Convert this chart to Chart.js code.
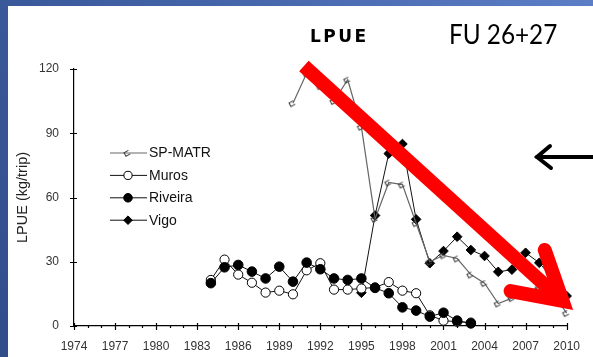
<!DOCTYPE html>
<html>
<head>
<meta charset="utf-8">
<script src="https://cdn.jsdelivr.net/npm/chart.js@4.4.0/dist/chart.umd.min.js"></script>
<style>
  html, body { margin: 0; padding: 0; }
  body { width: 593px; height: 357px; overflow: hidden; position: relative;
         background: linear-gradient(60deg, #304d8a 0%, #4363a8 50%, #5c7ec6 100%); }
  #panel { position: absolute; left: 8px; top: 6px; right: 0; bottom: 0; background: #fff; }
  #wrap { position: absolute; left: 0; top: 0; width: 593px; height: 357px; }
  .lbl { position: absolute; white-space: nowrap; color: #000; }
  #t1 { left: 310px; top: 26px; font: bold 17px "DejaVu Sans"; letter-spacing: 2.5px; }
  #t2 { left: 449px; top: 17px; font: 27px Lato; transform: scaleX(0.9); transform-origin: left top; }
</style>
</head>
<body>
<div id="panel"></div>
<div id="wrap"><canvas id="lpue"></canvas></div>
<div class="lbl" id="t1">LPUE</div>
<div class="lbl" id="t2">FU 26+27</div>
<script>
// LPUE par port, FU 26+27
const years = [1984, 1985, 1986, 1987, 1988, 1989, 1990, 1991, 1992, 1993, 1994, 1995, 1996, 1997,
  1998, 1999, 2000, 2001, 2002, 2003, 2004, 2005, 2006, 2007, 2008, 2009, 2010];
const spMatr = [null, null, null, null, null, null, 104, 118, 112, 105, 115, 93, 50, 67,
  66, 48, 30, 33, 31.5, 24, 20, 10.5, 13, 16, 18, 15, 6];
const muros = [21.5, 31, 24, 20.2, 15.6, 16.5, 14.8, 26, 29.3, 17, 17, 17.5, 18, 20.5,
  16.5, 15.3, 5, 2.5, 2, 1.6, null, null, null, null, null, null, null];
const riveira = [20, 27.4, 28.5, 25.4, 22.2, 27.7, 20.7, 29.6, 26.5, 22.2, 21.5, 22.2, 17.8, 15.3,
  8.7, 7.2, 4.4, 6.2, 2.5, 1.2, null, null, null, null, null, null, null];
const vigo = [null, null, null, null, null, null, null, null, null, null, null, 15.5, 51.6, 80.5,
  85, 49.8, 29.3, 35, 41.7, 35.5, 32.7, 25.3, 26.3, 34.2, 29.5, 22, 14];
const seriesNames = ['SP-MATR', 'Muros', 'Riveira', 'Vigo'];
const xTicks = [1974, 1977, 1980, 1983, 1986, 1989, 1992, 1995, 1998, 2001, 2004, 2007, 2010];
const yTicks = [0, 30, 60, 90, 120];

const pts = arr => years.map((y, i) => ({ x: y, y: arr[i] }));

// petit crochet pour SP-MATR
const hook = document.createElement('canvas');
hook.width = 12; hook.height = 12;
(function () {
  const c = hook.getContext('2d');
  c.strokeStyle = '#444';
  c.lineWidth = 1.1;
  c.translate(5, 7);
  c.rotate(-0.5);
  c.beginPath();
  c.moveTo(3, -2.5); c.lineTo(-2, -2.5); c.lineTo(-2, 1.5); c.lineTo(3, 1.5);
  c.stroke();
})();

const tickFont = { family: '"Liberation Sans Narrow", "Liberation Sans", Arial', size: 12 };

const axisTicks = {
  id: 'axisTicks',
  beforeDatasetsDraw(chart) {
    const { ctx, scales: { x, y }, chartArea } = chart;
    ctx.save();
    ctx.strokeStyle = '#000';
    ctx.lineWidth = 1.2;
    ctx.beginPath();
    yTicks.forEach(v => {
      const py = Math.round(y.getPixelForValue(v)) + 0.5;
      ctx.moveTo(chartArea.left - 4, py); ctx.lineTo(chartArea.left + 3, py);
    });
    for (let yr = xTicks[0]; yr <= xTicks[xTicks.length - 1]; yr++) {
      const px = Math.round(x.getPixelForValue(yr)) + 0.5;
      const major = xTicks.includes(yr);
      ctx.moveTo(px, chartArea.bottom - (major ? 3 : 0));
      ctx.lineTo(px, chartArea.bottom + (major ? 4 : 2));
    }
    ctx.stroke();
    ctx.restore();
  }
};

const legendBox = {
  id: 'legendBox',
  afterDatasetsDraw(chart) {
    const { ctx } = chart;
    ctx.save();
    ctx.font = '14px "Liberation Sans", Arial';
    ctx.textBaseline = 'middle';
    chart.data.datasets.forEach((ds, i) => {
      const yy = 153 + i * 22.4;
      ctx.strokeStyle = ds.borderColor;
      ctx.lineWidth = 1;
      ctx.beginPath(); ctx.moveTo(110, yy); ctx.lineTo(147, yy); ctx.stroke();
      if (ds.pointStyle instanceof HTMLCanvasElement) {
        ctx.drawImage(ds.pointStyle, 128 - 6, yy - 6);
      } else {
        const r = ds.pointRadius - 0.5;
        ctx.fillStyle = ds.pointBackgroundColor;
        ctx.strokeStyle = '#000';
        ctx.beginPath();
        if (ds.pointStyle === 'rectRot') {
          ctx.moveTo(128, yy - r); ctx.lineTo(128 + r, yy); ctx.lineTo(128, yy + r); ctx.lineTo(128 - r, yy);
          ctx.closePath();
        } else {
          ctx.arc(128, yy, r, 0, Math.PI * 2);
        }
        ctx.fill(); ctx.stroke();
      }
      ctx.fillStyle = '#111';
      ctx.fillText(ds.label, 149, yy + 0.5);
    });
    ctx.restore();
  }
};

const arrows = {
  id: 'arrows',
  afterDraw(chart) {
    const { ctx, scales: { x, y } } = chart;
    const P = (a, b) => [x.getPixelForValue(a), y.getPixelForValue(b)];
    const start = P(1990.8, 121.4), tip = P(2009.7, 11.7);
    const wingR = P(2008.4, 35.5), wingL = P(2005.9, 16.3);
    ctx.save();
    ctx.strokeStyle = '#ff0000';
    ctx.lineWidth = 14;
    ctx.lineCap = 'butt';
    ctx.beginPath(); ctx.moveTo(...start); ctx.lineTo(tip[0] - 6, tip[1] - 5.3); ctx.stroke();
    ctx.lineCap = 'round';
    ctx.lineJoin = 'miter';
    ctx.beginPath(); ctx.moveTo(...wingR); ctx.lineTo(...tip); ctx.lineTo(...wingL); ctx.stroke();
    // fleche noire
    ctx.strokeStyle = '#000';
    ctx.lineWidth = 4;
    ctx.beginPath(); ctx.moveTo(600, 157); ctx.lineTo(537, 157); ctx.stroke();
    ctx.beginPath(); ctx.moveTo(550, 146); ctx.lineTo(537, 157); ctx.lineTo(551, 168); ctx.stroke();
    ctx.restore();
  }
};

new Chart(document.getElementById('lpue'), {
  type: 'line',
  data: {
    datasets: [
      { label: seriesNames[0], data: pts(spMatr), borderColor: '#666', borderWidth: 1.2, order: 0,
        pointStyle: hook, pointRadius: 5, pointBackgroundColor: '#fff' },
      { label: seriesNames[1], data: pts(muros), borderColor: '#111', borderWidth: 1, order: 2,
        pointStyle: 'circle', pointRadius: 4.6, pointBackgroundColor: '#fff', pointBorderColor: '#000', pointBorderWidth: 1 },
      { label: seriesNames[2], data: pts(riveira), borderColor: '#111', borderWidth: 1, order: 1,
        pointStyle: 'circle', pointRadius: 4.8, pointBackgroundColor: '#000', pointBorderColor: '#000', pointBorderWidth: 1 },
      { label: seriesNames[3], data: pts(vigo), borderColor: '#111', borderWidth: 1, order: 3,
        pointStyle: 'rectRot', pointRadius: 4.8, pointBackgroundColor: '#000', pointBorderColor: '#000', pointBorderWidth: 1 }
    ]
  },
  options: {
    responsive: true,
    maintainAspectRatio: false,
    animation: false,
    devicePixelRatio: 1,
    layout: { padding: { left: 0, right: 15, top: 69, bottom: 0 } },
    elements: { line: { tension: 0 } },
    datasets: { line: { clip: false, spanGaps: false } },
    plugins: {
      legend: { display: false },
      tooltip: { enabled: false }
    },
    scales: {
      x: {
        type: 'linear', min: 1974, max: 2010,
        afterBuildTicks: s => { s.ticks = xTicks.map(v => ({ value: v })); },
        afterFit: s => { s.height = 31; },
        grid: { display: false, drawTicks: false },
        border: { display: true, color: '#000', width: 1.2 },
        ticks: { color: '#333', font: tickFont, padding: 13, maxRotation: 0, autoSkip: false,
                 callback: v => String(v) }
      },
      y: {
        min: 0, max: 120,
        afterBuildTicks: s => { s.ticks = yTicks.map(v => ({ value: v })); },
        afterFit: s => { s.width = 74; },
        grid: { display: false, drawTicks: false },
        border: { display: true, color: '#000', width: 1.2 },
        ticks: { color: '#333', font: tickFont, padding: 15, callback: v => String(v) },
        title: { display: true, text: 'LPUE (kg/trip)', color: '#222',
                 font: { family: '"Liberation Sans", Arial', size: 14.5 }, padding: { top: 14, bottom: 0 } }
      }
    }
  },
  plugins: [axisTicks, legendBox, arrows]
});
</script>
</body>
</html>
